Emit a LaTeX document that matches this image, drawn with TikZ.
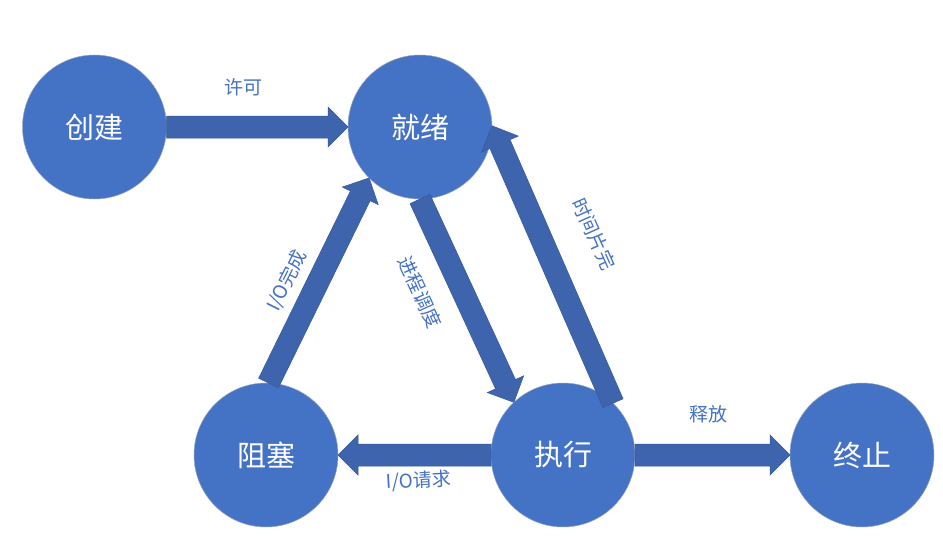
\documentclass[tikz,border=0pt]{standalone}
\usepackage{fontspec}
\setmainfont{Noto Sans CJK SC}
\usetikzlibrary{calc}
\definecolor{circblue}{HTML}{4472C4}
\definecolor{arrblue}{HTML}{3E64AD}
\definecolor{arredge}{HTML}{35599A}
\definecolor{circedge}{HTML}{9AA6BE}
\newcommand\blockarr[2]{%
  \coordinate (bah) at ($(#2)!20pt!(#1)$);
  \filldraw[arrowshape] ($(#1)!11pt!90:(#2)$) -- ($(bah)!11pt!90:(#2)$) -- ($(bah)!20pt!90:(#2)$) -- (#2)
    -- ($(bah)!20pt!-90:(#2)$) -- ($(bah)!11pt!-90:(#2)$) -- ($(#1)!11pt!-90:(#2)$) -- cycle;}
\tikzset{
  state/.style={circle, minimum size=144pt, inner sep=0pt, outer sep=0pt, fill=circblue, draw=circedge, line width=0.5pt, text=white, font=\fontsize{29}{29}\selectfont},
  arrowshape/.style={fill=arrblue, draw=arredge, line width=0.5pt, line join=miter},
  lbl/.style={text=circblue, inner sep=0pt, font=\fontsize{19}{19}\selectfont}
}
\begin{document}
\begin{tikzpicture}[x=1pt, y=-1pt]
\useasboundingbox[fill=white] (0,0) rectangle (943,543);
\node[state] (chuangjian) at (94.5,127) {创建};
\node[state] (jiuxu) at (420,127) {就绪};
\node[state] (zuse) at (266,455) {阻塞};
\node[state] (zhixing) at (563,455) {执行};
\node[state] (zhongzhi) at (862,455) {终止};

\blockarr{chuangjian.east}{jiuxu.west}
\blockarr{zuse.88}{jiuxu.225}
\blockarr{jiuxu.270}{zhixing.133}
\blockarr{zhixing.46}{jiuxu.1}
\blockarr{zhixing.west}{zuse.east}
\blockarr{zhixing.east}{zhongzhi.west}

\node[lbl] (lxk) at (243,87) {许可};
\node[lbl, rotate=63.4] (lwc) at (287,281) {I/O完成};
\node[lbl, rotate=-65.6] (ljc) at (420,292) {进程调度};
\node[lbl, rotate=-66] (lsj) at (594,234) {时间片完};
\node[lbl, rotate=3] (lqq) at (419,481) {I/O请求};
\node[lbl] (lsf) at (708,414) {释放};
\end{tikzpicture}
\end{document}
